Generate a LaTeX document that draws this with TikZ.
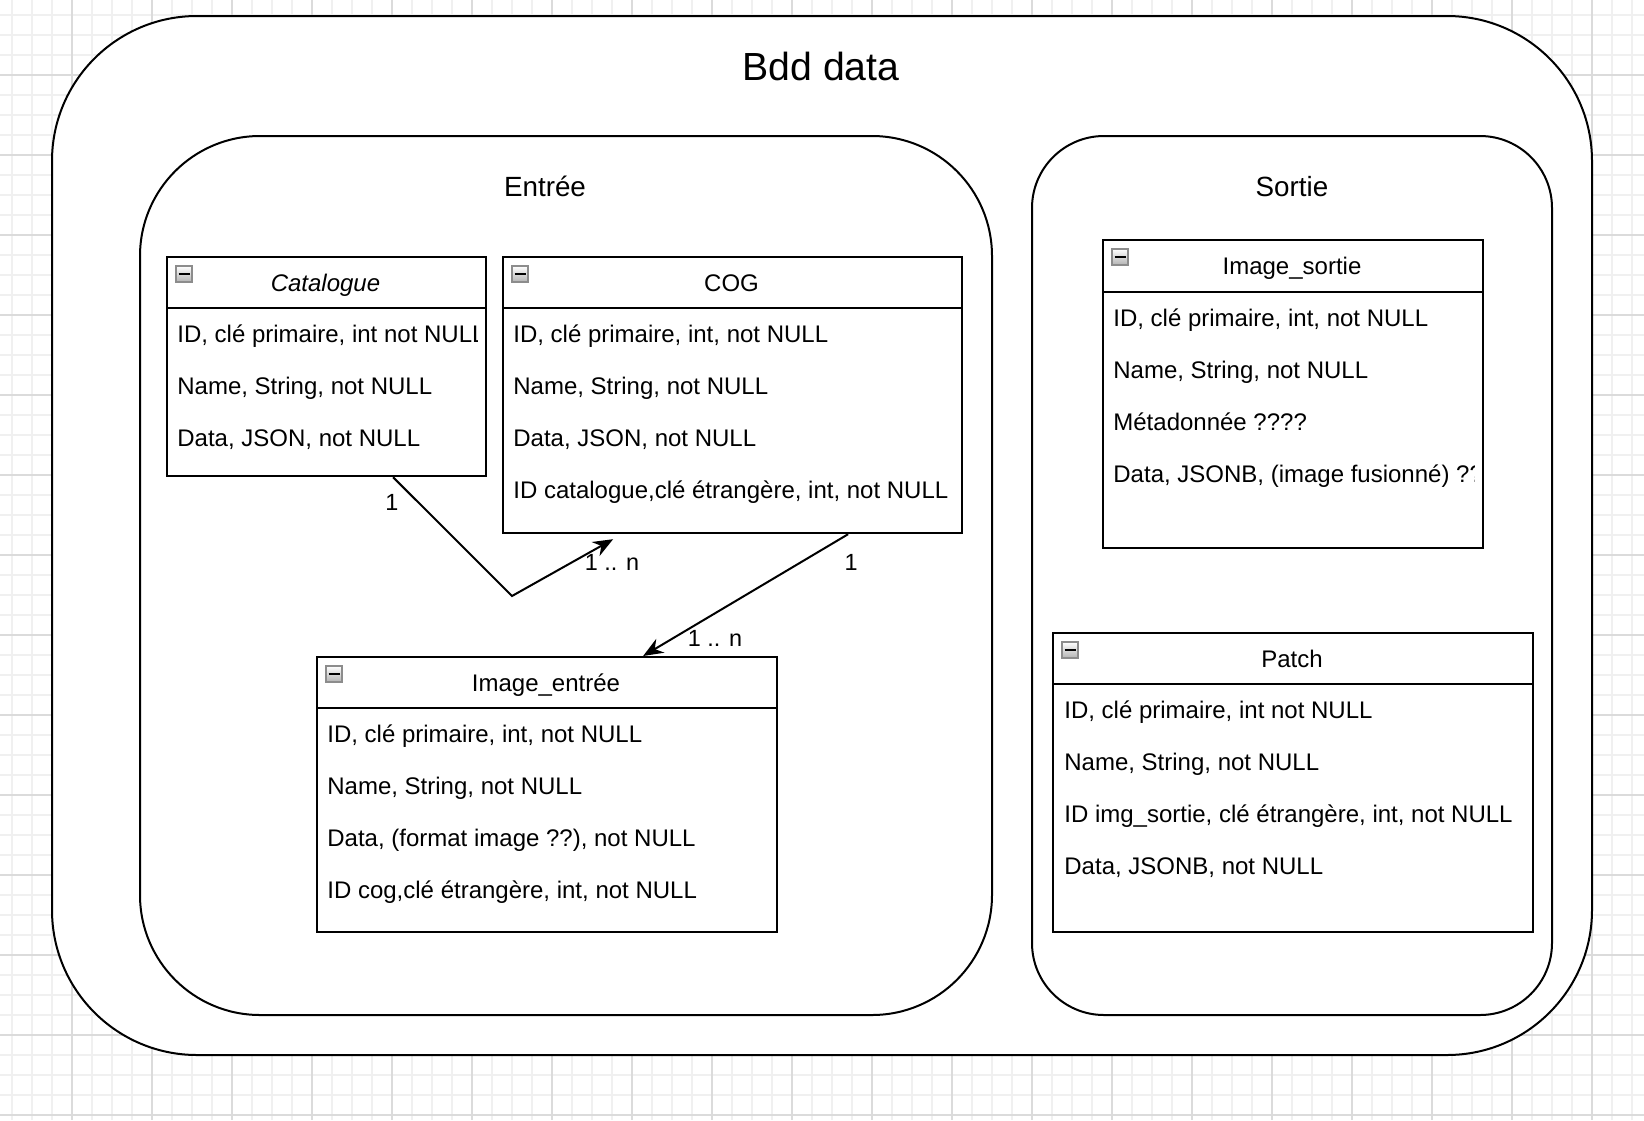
\documentclass[tikz,border=0pt]{standalone}
\usepackage{fontspec}
\setmainfont{Liberation Sans}
\usetikzlibrary{arrows.meta,positioning}

\begin{document}
\begin{tikzpicture}
	[x=0.5pt,y=-0.5pt,
	grille/.style={draw=black!6,line width=0.6pt},
	grille1/.style={draw=black!14,line width=0.6pt},
	cadre/.style={draw=black,fill=white,line width=1pt},
	classe/.style 2 args={draw=black,fill=white,line width=1.1pt,inner sep=0pt,
		anchor=north west,minimum width=#1*0.5pt,minimum height=#2*0.5pt},
	entete/.style={anchor=base,inner sep=0pt,font=\fontsize{12}{14}\selectfont},
	champ/.style={anchor=base west,inner sep=0pt,font=\fontsize{12}{14}\selectfont},
	bouton/.style={draw=black!45,top color=white,bottom color=black!30,line width=0.6pt,
		inner sep=0pt,minimum size=8pt},
	card/.style={anchor=base,inner sep=0pt,font=\fontsize{11.7}{14}\selectfont},
	lien/.style={line width=1pt,-{Stealth[length=10pt,width=8pt]}}]
\useasboundingbox (0,0) rectangle (1644,1120);
\fill[white] (0,0) rectangle (1644,1120);
%grille de fond
\foreach \gx in {12,32,...,1644} \draw[grille] (\gx,0) -- (\gx,1120);
\foreach \gy in {15,35,...,1120} \draw[grille] (0,\gy) -- (1644,\gy);
\foreach \gx in {72,152,...,1644} \draw[grille1] (\gx,0) -- (\gx,1120);
\foreach \gy in {75,155,...,1120} \draw[grille1] (0,\gy) -- (1644,\gy);

%cadres
\draw[cadre,rounded corners=72.5pt] (52,16) rectangle (1592,1055);
\node (titre) at (821,80) [anchor=base,inner sep=0pt,font=\fontsize{19.6}{24}\selectfont] {Bdd data};
\draw[cadre,rounded corners=60pt] (140,136) rectangle (992,1015);
\node (entree) at (545,196) [anchor=base,inner sep=0pt,font=\fontsize{13.9}{17}\selectfont] {Entrée};
\draw[cadre,rounded corners=36pt] (1032,136) rectangle (1552,1015);
\node (sortie) at (1292,196) [anchor=base,inner sep=0pt,font=\fontsize{13.9}{17}\selectfont] {Sortie};

%Catalogue
\node[classe={319}{219}] (cat) at (166,256) {};
\draw[line width=1.1pt] ([yshift=-26pt]cat.north west) -- ([yshift=-26pt]cat.north east);
\node[bouton] (catbtn) at (184,274) {\rule{5.5pt}{1.2pt}};
\node[entete] (catnom) at (325.5,291) {\textit{Catalogue}};
\begin{scope}
\clip (166,256) rectangle (477,475);
\node[champ] (catid) at (177,342.5) {ID, clé primaire, int not NULL};
\end{scope}
\node[champ] (catname) at (177,394.5) {Name, String, not NULL};
\node[champ] (catdata) at (177,446.5) {Data, JSON, not NULL};

%COG
\node[classe={459}{276}] (cog) at (502,256) {};
\draw[line width=1.1pt] ([yshift=-26pt]cog.north west) -- ([yshift=-26pt]cog.north east);
\node[bouton] (cogbtn) at (520,274) {\rule{5.5pt}{1.2pt}};
\node[entete] (cognom) at (731.5,291) {COG};
\node[champ] (cogid) at (513,342.5) {ID, clé primaire, int, not NULL};
\node[champ] (cogname) at (513,394.5) {Name, String, not NULL};
\node[champ] (cogdata) at (513,446.5) {Data, JSON, not NULL};
\node[champ] (cogcat) at (513,498.5) {ID catalogue,clé étrangère, int, not NULL};

%Image_entree
\node[classe={460}{275}] (imgin) at (316,656) {};
\draw[line width=1.1pt] ([yshift=-26pt]imgin.north west) -- ([yshift=-26pt]imgin.north east);
\node[bouton] (imginbtn) at (334,674) {\rule{5.5pt}{1.2pt}};
\node[entete] (imginnom) at (546,691) {Image\_entrée};
\node[champ] (imginid) at (327,742.5) {ID, clé primaire, int, not NULL};
\node[champ] (imginname) at (327,794.5) {Name, String, not NULL};
\node[champ] (imgindata) at (327,846.5) {Data, (format image ??), not NULL};
\node[champ] (imgincog) at (327,898.5) {ID cog,clé étrangère, int, not NULL};

%Image_sortie
\node[classe={380}{308}] (imgout) at (1102,239) {};
\draw[line width=1.1pt] ([yshift=-26.5pt]imgout.north west) -- ([yshift=-26.5pt]imgout.north east);
\node[bouton] (imgoutbtn) at (1120,257) {\rule{5.5pt}{1.2pt}};
\node[entete] (imgoutnom) at (1292,274) {Image\_sortie};
\node[champ] (imgoutid) at (1113,326.5) {ID, clé primaire, int, not NULL};
\node[champ] (imgoutname) at (1113,378.5) {Name, String, not NULL};
\node[champ] (imgoutmeta) at (1113,430.5) {Métadonnée ????};
\begin{scope}
\clip (1102,239) rectangle (1474,547);
\node[champ] (imgoutdata) at (1113,482.5) {Data, JSONB, (image fusionné) ???};
\end{scope}

%Patch
\node[classe={480}{299}] (patch) at (1052,632) {};
\draw[line width=1.1pt] ([yshift=-26pt]patch.north west) -- ([yshift=-26pt]patch.north east);
\node[bouton] (patchbtn) at (1070,650) {\rule{5.5pt}{1.2pt}};
\node[entete] (patchnom) at (1292,667) {Patch};
\node[champ] (patchid) at (1064,718.5) {ID, clé primaire, int not NULL};
\node[champ] (patchname) at (1064,770.5) {Name, String, not NULL};
\node[champ] (patchimg) at (1064,822.5) {ID img\_sortie, clé étrangère, int, not NULL};
\node[champ] (patchdata) at (1064,874.5) {Data, JSONB, not NULL};

%liens
\coordinate (coude) at (512,596);
\draw[lien] ([xshift=33.25pt]cat.south) -- (coude) -- ([xshift=-59.75pt,yshift=-2.5pt]cog.south);
\draw[lien] ([xshift=57.75pt]cog.south) -- ([xshift=48pt]imgin.north);
\node[card] (c1) at (392,510) {1};
\node[card] (c2) at (612,570) {1 .. n};
\node[card] (c3) at (851,570) {1};
\node[card] (c4) at (715,646) {1 .. n};
\end{tikzpicture}
\end{document}
